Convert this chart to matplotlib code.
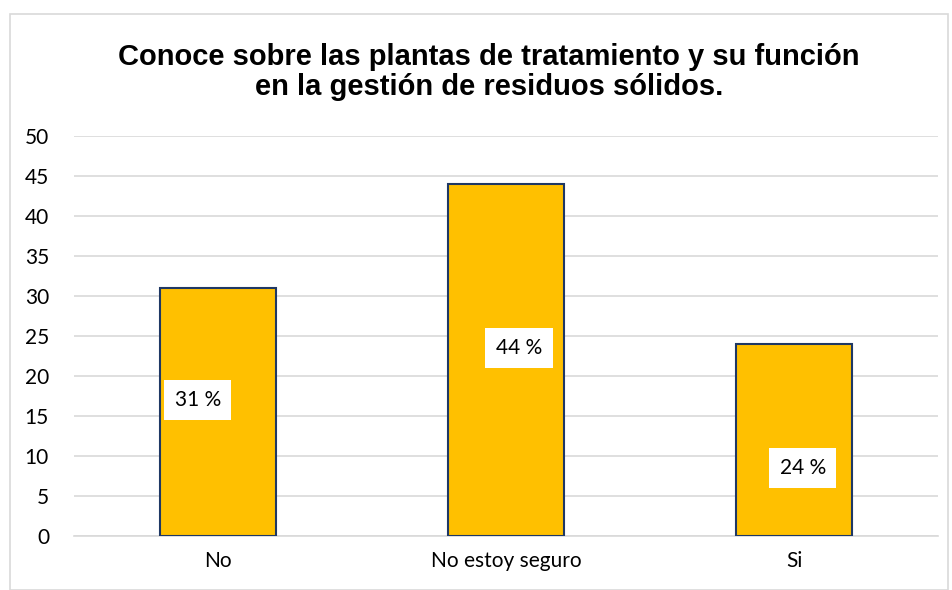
import matplotlib
matplotlib.use("Agg")
import matplotlib.pyplot as plt
from matplotlib.patches import Rectangle

categories = ["No", "No estoy seguro", "Si"]
values = [31, 44, 24]
labels = ["31 %", "44 %", "24 %"]
label_y = [17, 23.5, 8.5]
label_dx = [-0.07, 0.045, 0.03]
yticks = list(range(0, 55, 5))
title = "Conoce sobre las plantas de tratamiento y su función\nen la gestión de residuos sólidos."

W, H = 952, 590
fig = plt.figure(figsize=(W / 100, H / 100), dpi=100)
fig.patch.set_facecolor("white")

# outer chart border
fig.patches.append(Rectangle((10 / W, 0), (W - 14) / W, (H - 14) / H, transform=fig.transFigure,
                             fill=False, edgecolor="#d9d9d9", linewidth=1.2))

ax = fig.add_axes([74 / W, 54 / H, 864 / W, 400 / H])
x = list(range(len(categories)))
ax.bar(x, values, width=0.403, color="#FFC000", edgecolor="#1F3864", linewidth=1.5, zorder=3)
ax.set_xlim(-0.5, 2.5)
ax.set_ylim(0, 50)
ax.set_yticks(yticks)
ax.set_xticks(x)
ax.set_xticklabels(categories)
ax.grid(axis="y", color="#d9d9d9", linewidth=1.2, zorder=0)
for s in ["top", "right", "left"]:
    ax.spines[s].set_visible(False)
ax.spines["bottom"].set_color("#d9d9d9")
ax.spines["bottom"].set_linewidth(1.2)
ax.tick_params(axis="both", length=0, labelsize=15, colors="black")
ax.tick_params(axis="y", pad=18)
ax.tick_params(axis="x", pad=11)
for t in ax.get_xticklabels() + ax.get_yticklabels():
    t.set_fontfamily("Lato")

for i, (lab, ly, dx) in enumerate(zip(labels, label_y, label_dx)):
    ax.text(i + dx, ly, lab, ha="center", va="center", fontsize=15, family="Lato",
            zorder=5, bbox=dict(facecolor="white", edgecolor="none", boxstyle="square,pad=0.5"))

fig.text(489 / W, 1 - 72 / H, title, ha="center", va="center", fontsize=21, fontweight="bold",
         family="Liberation Sans", linespacing=1.12)

fig.savefig("out.png", dpi=100, facecolor="white")
